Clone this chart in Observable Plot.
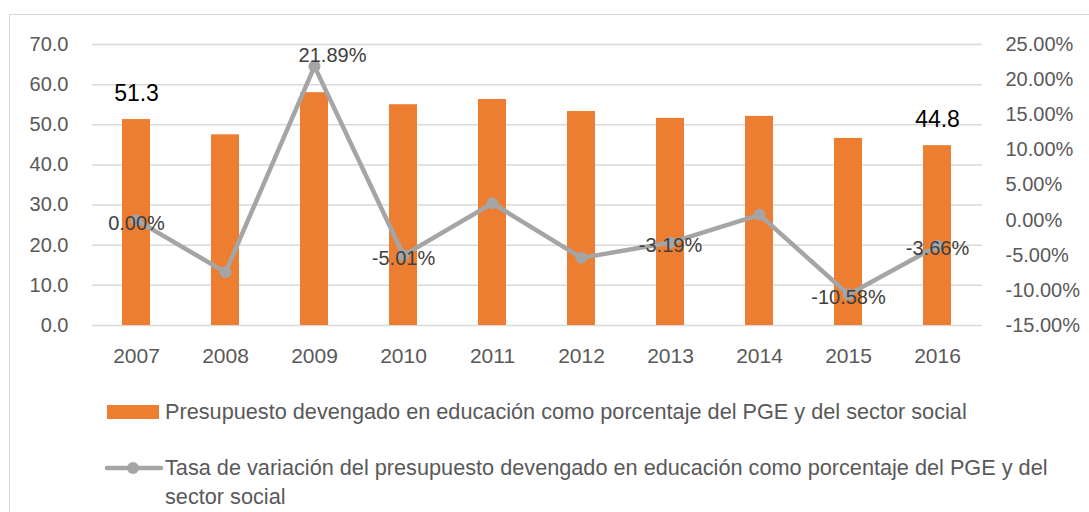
<!DOCTYPE html>
<html>
<head>
<meta charset="utf-8">
<script src="https://cdn.jsdelivr.net/npm/d3@7"></script>
<script src="https://cdn.jsdelivr.net/npm/@observablehq/plot@0.6"></script>
<style>
  html, body { margin: 0; padding: 0; background: #fff; }
  #wrap { position: relative; width: 1089px; height: 512px; overflow: hidden; font-family: "Liberation Sans", Arial, sans-serif; }
  #frame { position: absolute; left: 9px; top: 14px; width: 1200px; height: 600px; border-left: 1.5px solid #d9d9d9; border-top: 1.5px solid #d9d9d9; }
  #chart { position: absolute; left: 0; top: 0; }
  .leg { position: absolute; left: 165px; color: #595959; font-size: 21.7px; line-height: 29px; width: 885px; }
  .sw { position: absolute; }
</style>
</head>
<body>
<div id="wrap">
  <div id="frame"></div>
  <div id="chart"></div>
  <div class="sw" style="left:107px; top:405px; width:52px; height:14px; background:#ED7D31;"></div>
  <div class="leg" id="leg1" style="top:397px;"></div>
  <svg class="sw" style="left:104px; top:458px;" width="60" height="20">
    <line x1="3" y1="10" x2="57" y2="10" stroke="#A5A5A5" stroke-width="4.5" stroke-linecap="round"></line>
    <circle cx="29" cy="10" r="6" fill="#A5A5A5"></circle>
  </svg>
  <div class="leg" id="leg2" style="top:453px;"></div>
</div>
<script>
const years = [2007, 2008, 2009, 2010, 2011, 2012, 2013, 2014, 2015, 2016];
const budget = [51.3, 47.5, 58.0, 55.0, 56.3, 53.3, 51.6, 52.1, 46.6, 44.8];
const variation = [0.00, -7.42, 21.89, -5.01, 2.40, -5.37, -3.19, 0.75, -10.58, -3.66];
const leftTicks = [0, 10, 20, 30, 40, 50, 60, 70];
const rightTicks = [-15, -10, -5, 0, 5, 10, 15, 20, 25];
const labeledBarYears = [2007, 2016];
const labeledRateYears = [2007, 2009, 2010, 2013, 2015, 2016];
const seriesBar = "Presupuesto devengado en educación como porcentaje del PGE y del sector social";
const seriesLine = "Tasa de variación del presupuesto devengado en educación como porcentaje del PGE y del sector social";

const leftDomain = [leftTicks[0], leftTicks[leftTicks.length - 1]];
const rightDomain = [rightTicks[0], rightTicks[rightTicks.length - 1]];
const toLeft = p => leftDomain[0] + (p - rightDomain[0]) / (rightDomain[1] - rightDomain[0]) * (leftDomain[1] - leftDomain[0]);
const toRight = v => rightDomain[0] + (v - leftDomain[0]) / (leftDomain[1] - leftDomain[0]) * (rightDomain[1] - rightDomain[0]);

const data = years.map((y, i) => ({year: String(y), budget: budget[i], rate: variation[i], yl: toLeft(variation[i])}));
const barLabels = data.filter(d => labeledBarYears.includes(+d.year));
const rateLabels = data.filter(d => labeledRateYears.includes(+d.year));
const peak = rateLabels.filter(d => d.rate === d3.max(variation));
const others = rateLabels.filter(d => d.rate !== d3.max(variation));

const gray = "#A5A5A5";
const orange = "#ED7D31";
const font = "Liberation Sans, Arial, sans-serif";

const chart = Plot.plot({
  width: 1089,
  height: 380,
  marginLeft: 92,
  marginRight: 107,
  marginTop: 44,
  marginBottom: 55,
  style: {fontFamily: font, background: "transparent"},
  x: {type: "band", domain: years.map(String), paddingInner: 0.685, paddingOuter: 0.3425, label: null},
  y: {domain: leftDomain, label: null},
  marks: [
    Plot.gridY(leftTicks, {stroke: "#d9d9d9", strokeOpacity: 1, strokeWidth: 1.5}),
    Plot.barY(data, {x: "year", y: "budget", fill: orange}),
    Plot.line(data, {x: "year", y: "yl", stroke: gray, strokeWidth: 4.5}),
    Plot.dot(data, {x: "year", y: "yl", r: 6, fill: gray}),
    Plot.axisY(leftTicks, {anchor: "left", tickSize: 0, tickPadding: 24, tickFormat: d => d.toFixed(1), fontSize: 20, fill: "#595959", label: null}),
    Plot.axisY(rightTicks.map(toLeft), {anchor: "right", tickSize: 0, tickPadding: 23, tickFormat: d => toRight(d).toFixed(2) + "%", fontSize: 20, fill: "#595959", label: null}),
    Plot.axisX({tickSize: 0, tickPadding: 23, fontSize: 21, fill: "#595959", label: null}),
    Plot.text(barLabels, {x: "year", y: "budget", text: d => d.budget.toFixed(1), dy: -26, fontSize: 23, fill: "#000"}),
    Plot.text(others, {x: "year", y: "yl", text: d => d.rate.toFixed(2) + "%", dy: 3, fontSize: 20, fill: "#404040"}),
    Plot.text(peak, {x: "year", y: "yl", text: d => d.rate.toFixed(2) + "%", dx: 18, dy: -11, fontSize: 20, fill: "#404040"})
  ]
});
document.getElementById("chart").appendChild(chart);
document.getElementById("leg1").textContent = seriesBar;
document.getElementById("leg2").textContent = seriesLine;
</script>
</body>
</html>
